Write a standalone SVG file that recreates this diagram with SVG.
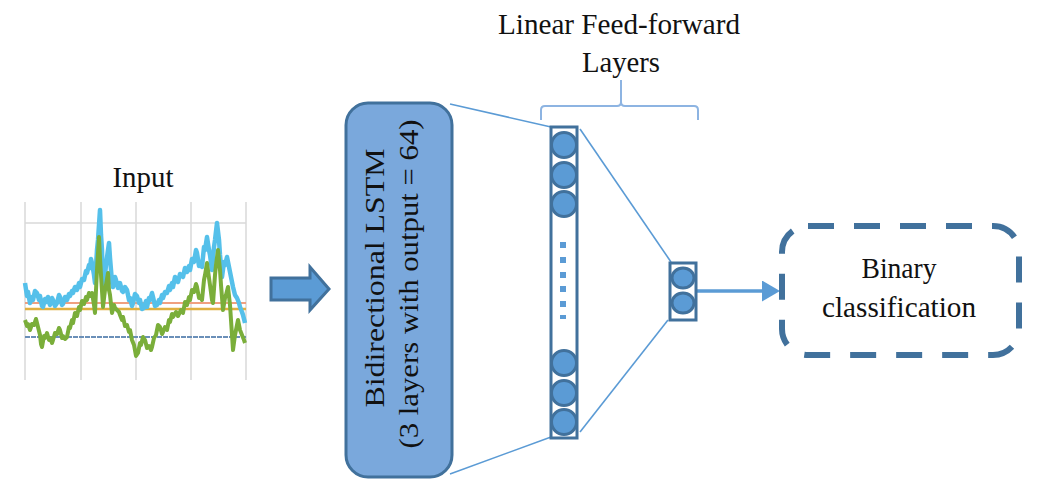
<svg xmlns="http://www.w3.org/2000/svg" width="1038" height="483" viewBox="0 0 1038 483">
<style>
.t{font-family:"Liberation Serif","Times New Roman",serif;fill:#111;}
.thin{stroke:#5b9bd5;stroke-width:1.6;fill:none;}
.node{fill:#5b9bd5;stroke:#41719c;stroke-width:3;}
.grid{stroke:#d9d9d9;stroke-width:1.5;}
</style>
<defs>
<marker id="ah" markerWidth="18" markerHeight="21" refX="2" refY="10.5" orient="auto" markerUnits="userSpaceOnUse" viewBox="0 0 18 21">
<path d="M0,0 L18,10.5 L0,21 z" fill="#5b9bd5"/>
</marker>
</defs>
<rect width="1038" height="483" fill="#fff"/>

<g id="input">
<text class="t" x="143" y="187" font-size="30" text-anchor="middle" textLength="61" lengthAdjust="spacingAndGlyphs">Input</text>
<g class="grid">
<line x1="25" y1="202" x2="25" y2="380"/>
<line x1="81" y1="202" x2="81" y2="380"/>
<line x1="136" y1="202" x2="136" y2="380"/>
<line x1="191" y1="202" x2="191" y2="380"/>
<line x1="246" y1="202" x2="246" y2="380"/>
<line x1="25" y1="223" x2="246" y2="223"/>
</g>
<line x1="25" y1="303" x2="246" y2="303" stroke="#f0a080" stroke-width="2"/>
<line x1="25" y1="309" x2="246" y2="309" stroke="#e0b040" stroke-width="2.5"/>
<line x1="25" y1="337" x2="246" y2="337" stroke="#6a8fb8" stroke-width="2" stroke-dasharray="5 1"/>
<polyline fill="none" stroke="#55c0ea" stroke-width="4.5" stroke-linejoin="round" points="25,283 27,296 28,292 30,303 32,297 33,300 35,291 37,293 39,300 40,296 42,306 43,307 45,299 47,302 48,297 50,305 52,298 53,300 55,306 57,303 59,295 60,297 62,305 63,304 65,297 67,300 69,294 70,296 72,291 73,293 75,287 77,290 79,283 80,287 82,279 84,280 86,271 87,273 89,265 90,268 91,259 92,263 94,275 95,283 97,250 98,240 100,210 101,235 102,250 103,287 105,275 106,265 108,250 109,243 110,258 111,270 112,282 113,287 115,277 116,280 118,288 120,283 122,291 123,292 125,287 127,290 129,300 130,298 132,306 133,303 135,294 137,296 139,303 140,300 142,309 144,308 146,301 147,307 149,298 150,300 152,293 153,297 155,306 157,305 159,300 160,303 162,295 163,298 165,292 167,293 169,286 170,290 172,283 173,287 175,277 178,282 180,274 183,277 185,268 187,272 189,266 190,270 192,259 194,262 196,250 197,253 199,266 200,262 202,267 204,247 205,250 207,237 209,250 210,255 212,270 214,247 215,240 217,223 219,240 220,255 222,277 224,262 225,265 227,257 229,267 230,272 232,282 233,287 235,295 237,298 239,303 240,307 242,312 243,315 245,323"/>
<polyline fill="none" stroke="#7aae3a" stroke-width="4" stroke-linejoin="round" points="25,320 27,326 28,324 30,330 32,324 34,325 36,319 37,323 39,331 40,335 41,344 42,347 44,336 45,338 47,333 49,340 50,338 52,343 53,340 55,333 57,334 59,328 60,330 62,338 63,336 65,339 67,337 69,327 70,328 72,320 73,323 75,313 77,316 79,307 80,310 82,301 84,304 86,297 87,300 89,293 90,296 92,293 94,305 95,313 96,290 97,270 99,237 100,258 101,275 103,307 105,290 106,285 108,273 109,290 110,295 112,313 114,305 115,308 117,310 119,312 120,315 122,320 123,317 125,326 127,325 129,332 130,330 132,340 134,345 136,356 138,353 140,343 141,345 143,337 145,340 147,348 149,346 151,350 152,347 154,338 156,335 158,325 160,327 162,334 163,332 165,327 167,330 169,320 170,322 172,314 173,317 176,312 178,316 181,310 183,313 185,302 187,305 189,297 190,300 192,290 194,292 196,284 197,287 199,298 200,296 202,300 204,280 205,275 207,263 209,278 210,285 212,300 213,303 215,275 216,265 218,250 220,270 221,285 223,310 225,298 226,295 228,287 230,305 231,320 233,350 235,335 236,330 238,320 240,330 242,335 244,340 245,343"/>
</g>

<g id="block-arrow">
<path d="M271,278 L310,278 L310,267 L329,289 L310,310 L310,300 L271,300 z" fill="#5b9bd5" stroke="#41719c" stroke-width="3" stroke-linejoin="miter"/>
</g>

<g id="connectors">
<line class="thin" x1="450" y1="104" x2="551" y2="127"/>
<line class="thin" x1="450" y1="474" x2="551" y2="437"/>
<line class="thin" x1="580" y1="129" x2="671" y2="262"/>
<line class="thin" x1="580" y1="432" x2="668" y2="320"/>
<line x1="696" y1="291" x2="764" y2="291" stroke="#5b9bd5" stroke-width="3.5" marker-end="url(#ah)"/>
</g>

<g id="lstm">
<rect x="346" y="103" width="106" height="374" rx="22" fill="#7aa8dc" stroke="#41719c" stroke-width="3"/>
<text class="t" font-size="28" text-anchor="middle" textLength="259" lengthAdjust="spacingAndGlyphs" transform="translate(384,278) rotate(-90)">Bidirectional LSTM</text>
<text class="t" font-size="28" text-anchor="middle" textLength="329" lengthAdjust="spacingAndGlyphs" transform="translate(418,284) rotate(-90)">(3 layers with output = 64)</text>
</g>

<g id="ff-layer1">
<rect x="551" y="127" width="26" height="311" fill="#fff" stroke="#41719c" stroke-width="3"/>
<circle class="node" cx="564" cy="145" r="12.5"/>
<circle class="node" cx="564" cy="175" r="12.5"/>
<circle class="node" cx="564" cy="204" r="12.5"/>
<circle class="node" cx="564" cy="363" r="12.5"/>
<circle class="node" cx="564" cy="393" r="12.5"/>
<circle class="node" cx="564" cy="422" r="12.5"/>
<g fill="#5b9bd5">
<rect x="560" y="242" width="6" height="6"/>
<rect x="560" y="257" width="6" height="6"/>
<rect x="560" y="272" width="6" height="6"/>
<rect x="560" y="286" width="6" height="6"/>
<rect x="560" y="301" width="6" height="6"/>
<rect x="560" y="315" width="6" height="4"/>
</g>
</g>

<g id="ff-layer2">
<rect x="670" y="263" width="26" height="57" fill="#fff" stroke="#41719c" stroke-width="3"/>
<ellipse class="node" cx="683" cy="278" rx="11" ry="10"/>
<ellipse class="node" cx="683" cy="303" rx="11" ry="10"/>
</g>

<g id="ff-label">
<text class="t" x="619" y="34" font-size="30" text-anchor="middle" textLength="242" lengthAdjust="spacingAndGlyphs">Linear Feed-forward</text>
<text class="t" x="621" y="72" font-size="30" text-anchor="middle" textLength="78" lengthAdjust="spacingAndGlyphs">Layers</text>
<path d="M541,120 L541,110 Q541,106 545,106 L617,106 Q621,106 621,102 L621,80 M621,102 Q621,106 625,106 L694,106 Q698,106 698,110 L698,120" fill="none" stroke="#8db4e2" stroke-width="2"/>
</g>

<g id="output">
<rect x="782" y="226" width="237" height="129" rx="26" fill="#fff" stroke="#41719c" stroke-width="6" stroke-dasharray="26 20"/>
<text class="t" x="899" y="278" font-size="29" text-anchor="middle" textLength="75" lengthAdjust="spacingAndGlyphs">Binary</text>
<text class="t" x="899" y="317" font-size="29" text-anchor="middle" textLength="154" lengthAdjust="spacingAndGlyphs">classification</text>
</g>
</svg>
